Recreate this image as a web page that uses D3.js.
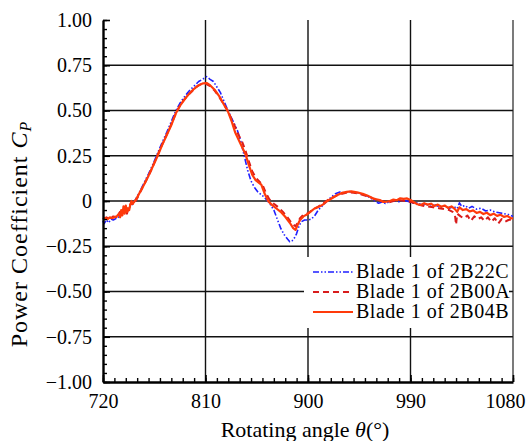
<!DOCTYPE html>
<html>
<head>
<meta charset="utf-8">
<script src="https://cdn.jsdelivr.net/npm/d3@7"></script>
<style>
  html, body { margin: 0; padding: 0; background: #fff; }
  svg { display: block; }
</style>
</head>
<body>
<svg id="chart" width="531" height="441"></svg>
<script>
// Power coefficient of blade 1 over one revolution, three rotor configurations
const seriesNames = ["Blade 1 of 2B22C", "Blade 1 of 2B00A", "Blade 1 of 2B04B"];

const cp2B22C = [[720,-0.11],[721,-0.125],[723,-0.105],[725,-0.12],[727,-0.1],[729,-0.105],[732,-0.095],[735,-0.085],[738,-0.07],[741,-0.05],[744,-0.03],[747,-0.01],[750,0.025],[753,0.06],[756,0.1],[760,0.15],[764,0.205],[768,0.265],[772,0.325],[776,0.38],[780,0.44],[784,0.5],[788,0.545],[792,0.58],[796,0.61],[800,0.635],[804,0.66],[808,0.675],[811,0.687],[814,0.672],[817,0.66],[820,0.63],[823,0.6],[826,0.555],[829,0.51],[832,0.47],[835,0.43],[838,0.39],[841,0.33],[844,0.25],[847,0.17],[850,0.11],[853,0.075],[856,0.05],[860,0.03],[864,0.005],[867,-0.02],[870,-0.05],[873,-0.1],[876,-0.15],[879,-0.185],[882,-0.21],[884,-0.225],[886,-0.22],[888,-0.205],[890,-0.18],[892,-0.14],[894,-0.115],[897,-0.105],[900,-0.105],[903,-0.1],[906,-0.08],[909,-0.05],[912,-0.03],[916,-0.005],[920,0.02],[924,0.04],[928,0.05],[932,0.045],[936,0.052],[940,0.048],[944,0.045],[948,0.035],[952,0.028],[956,0.012],[959,-0.002],[962,-0.012],[965,-0.005],[968,-0.014],[972,-0.002],[976,0.004],[980,-0.004],[984,0.004],[988,-0.002],[992,-0.012],[996,-0.01],[1000,-0.022],[1004,-0.018],[1008,-0.03],[1012,-0.022],[1016,-0.035],[1020,-0.028],[1024,-0.04],[1028,-0.03],[1031,-0.042],[1033,-0.01],[1035,-0.03],[1038,-0.025],[1041,-0.04],[1044,-0.03],[1048,-0.045],[1052,-0.04],[1056,-0.055],[1060,-0.05],[1064,-0.06],[1068,-0.065],[1072,-0.07],[1076,-0.075],[1080,-0.085]];

const cp2B00A = [[720,-0.1],[723,-0.09],[726,-0.1],[729,-0.085],[732,-0.09],[735,-0.06],[737,-0.085],[739,-0.04],[741,-0.07],[743,-0.03],[745,-0.01],[747,-0.02],[750,0.015],[754,0.065],[758,0.115],[762,0.165],[766,0.225],[770,0.285],[774,0.34],[778,0.395],[782,0.455],[786,0.51],[790,0.55],[794,0.58],[798,0.605],[802,0.63],[806,0.645],[810,0.648],[814,0.635],[818,0.61],[822,0.575],[826,0.535],[830,0.495],[833,0.45],[836,0.41],[839,0.365],[842,0.33],[845,0.28],[848,0.22],[851,0.165],[854,0.13],[857,0.11],[860,0.09],[863,0.045],[866,0.01],[870,-0.015],[874,-0.035],[878,-0.06],[882,-0.09],[886,-0.125],[889,-0.14],[891,-0.12],[893,-0.095],[896,-0.075],[900,-0.068],[904,-0.05],[908,-0.035],[912,-0.02],[916,0.0],[920,0.015],[925,0.03],[930,0.04],[935,0.048],[940,0.045],[945,0.04],[950,0.03],[955,0.02],[960,0.005],[965,0.0],[970,-0.01],[975,0.0],[980,0.005],[985,0.0],[990,-0.005],[995,-0.015],[1000,-0.025],[1005,-0.03],[1010,-0.035],[1015,-0.04],[1020,-0.045],[1024,-0.05],[1027,-0.06],[1029,-0.075],[1030,-0.13],[1031,-0.07],[1034,-0.085],[1037,-0.095],[1040,-0.08],[1043,-0.11],[1046,-0.085],[1049,-0.1],[1052,-0.09],[1055,-0.11],[1058,-0.09],[1061,-0.115],[1064,-0.095],[1067,-0.125],[1070,-0.1],[1073,-0.115],[1076,-0.105],[1080,-0.1]];

const cp2B04B = [[720,-0.10],[722,-0.095],[724,-0.10],[726,-0.09],[728,-0.095],[730,-0.09],[732,-0.085],[734,-0.07],[735,-0.09],[736,-0.05],[737,-0.08],[738,-0.03],[739,-0.07],[740,-0.025],[741,-0.06],[742,-0.04],[743,-0.05],[744,-0.02],[745,0.0],[746,-0.015],[748,0.0],[750,0.02],[753,0.055],[756,0.09],[760,0.14],[764,0.195],[768,0.25],[772,0.31],[776,0.365],[780,0.42],[784,0.485],[788,0.53],[792,0.565],[796,0.595],[800,0.62],[804,0.64],[808,0.65],[811,0.652],[814,0.64],[818,0.615],[822,0.58],[826,0.535],[830,0.49],[833,0.44],[836,0.38],[839,0.34],[842,0.3],[845,0.26],[848,0.2],[851,0.145],[854,0.115],[857,0.1],[859,0.09],[862,0.04],[865,0.0],[868,-0.02],[872,-0.04],[876,-0.06],[880,-0.087],[884,-0.12],[887,-0.15],[889,-0.16],[891,-0.13],[893,-0.105],[896,-0.085],[899,-0.075],[902,-0.06],[906,-0.04],[910,-0.03],[913,-0.02],[917,0.0],[921,0.015],[925,0.03],[930,0.045],[934,0.05],[938,0.053],[943,0.048],[948,0.04],[952,0.03],[957,0.015],[960,0.01],[963,0.005],[966,-0.005],[969,-0.004],[972,0.0],[975,0.008],[978,0.004],[981,0.015],[984,0.012],[987,0.014],[990,0.006],[993,-0.006],[996,-0.018],[999,-0.022],[1002,-0.012],[1005,-0.02],[1008,-0.015],[1011,-0.028],[1014,-0.02],[1017,-0.032],[1020,-0.025],[1023,-0.038],[1026,-0.03],[1029,-0.045],[1031,-0.06],[1033,-0.035],[1036,-0.05],[1039,-0.045],[1042,-0.058],[1045,-0.052],[1048,-0.066],[1051,-0.06],[1054,-0.072],[1057,-0.065],[1060,-0.078],[1063,-0.07],[1066,-0.082],[1069,-0.076],[1072,-0.088],[1075,-0.083],[1078,-0.094],[1080,-0.098]];

const xTicks = [720, 810, 900, 990, 1080];
const yTicks = [1, 0.75, 0.5, 0.25, 0, -0.25, -0.5, -0.75, -1];

const colors = ["#1f1fff", "#d81c1c", "#ff3a0a"];
const dashes = ["6,2,1.5,2,1.5,2", "6,4", null];
const widths = [1.6, 2, 2.2];
const allSeries = [cp2B22C, cp2B00A, cp2B04B];

const serif = "Liberation Serif";

const margin = { left: 103, right: 18, top: 20, bottom: 59 };
const W = 531, H = 441;
const svg = d3.select("#chart");

const x = d3.scaleLinear().domain([720, 1080]).range([margin.left, W - margin.right]);
const y = d3.scaleLinear().domain([-1, 1]).range([H - margin.bottom, margin.top]);

const fmtY = v => v === 0 ? "0" : d3.format(".2f")(v);

// grid
const grid = svg.append("g").attr("stroke", "#111").attr("stroke-width", 1.4);
grid.selectAll("line.h").data(yTicks.filter(v => v > -1 && v < 1)).join("line")
  .attr("x1", x.range()[0]).attr("x2", x.range()[1])
  .attr("y1", d => y(d)).attr("y2", d => y(d));
grid.selectAll("line.v").data(xTicks.filter(v => v > 720 && v < 1080)).join("line")
  .attr("y1", y.range()[0]).attr("y2", y.range()[1])
  .attr("x1", d => x(d)).attr("x2", d => x(d));

// right border
svg.append("line")
  .attr("x1", x(1080)).attr("x2", x(1080))
  .attr("y1", y(-1)).attr("y2", y(1))
  .attr("stroke", "#222").attr("stroke-width", 1.2);

// curves
const line = d3.line().x(d => x(d[0])).y(d => y(d[1]));
const curves = svg.append("g").attr("fill", "none");
allSeries.forEach((s, i) => {
  curves.append("path")
    .attr("d", line(s))
    .attr("stroke", colors[i])
    .attr("stroke-width", widths[i])
    .attr("stroke-dasharray", dashes[i])
    .attr("stroke-linejoin", "round");
});

// axes
const fs = 20;
const yMinor = svg.append("g").attr("transform", `translate(${margin.left},0)`)
  .call(d3.axisLeft(y).tickValues(d3.range(-1, 1.0001, 0.05)).tickSizeInner(-4).tickSizeOuter(0).tickFormat(""));
yMinor.select(".domain").remove();
yMinor.selectAll("line").attr("stroke-width", 1.4);

const yAxis = svg.append("g").attr("transform", `translate(${margin.left},0)`)
  .attr("font-family", serif).attr("font-size", fs)
  .call(d3.axisLeft(y).tickValues(yTicks).tickSizeInner(-7).tickSizeOuter(0).tickPadding(11).tickFormat(fmtY));
yAxis.attr("font-family", serif).attr("font-size", fs);
yAxis.select(".domain").attr("stroke-width", 2.4);
yAxis.selectAll("line").attr("stroke-width", 1.6);
yAxis.selectAll("text").attr("fill", "#000");

const xMinor = svg.append("g").attr("transform", `translate(0,${y(-1)})`)
  .call(d3.axisBottom(x).tickValues(d3.range(720, 1081, 10)).tickSizeInner(-4).tickSizeOuter(0).tickFormat(""));
xMinor.select(".domain").remove();
xMinor.selectAll("line").attr("stroke-width", 1.4);

const xAxis = svg.append("g").attr("transform", `translate(0,${y(-1)})`)
  .call(d3.axisBottom(x).tickValues(xTicks).tickSizeInner(-7).tickSizeOuter(0).tickPadding(12).tickFormat(d3.format("d")));
xAxis.attr("font-family", serif).attr("font-size", fs);
xAxis.select(".domain").attr("stroke-width", 2.4);
xAxis.selectAll("line").attr("stroke-width", 1.6);
xAxis.selectAll("text").attr("fill", "#000");
// last label sits flush with the right edge of the figure
xAxis.selectAll(".tick").filter(d => d === 1080).select("text")
  .attr("text-anchor", "end").attr("x", 12);

// axis titles
const yTitle = svg.append("text")
  .attr("transform", "translate(27,234) rotate(-90)")
  .attr("text-anchor", "middle")
  .attr("font-family", serif).attr("font-size", 24).attr("letter-spacing", 1);
yTitle.append("tspan").text("Power Coefficient ");
yTitle.append("tspan").attr("font-style", "italic").text("C");
yTitle.append("tspan").attr("font-style", "italic").attr("font-size", 16).attr("dy", 4).text("P");

const xTitle = svg.append("text")
  .attr("x", 305).attr("y", 437)
  .attr("text-anchor", "middle")
  .attr("font-family", serif).attr("font-size", 22);
xTitle.append("tspan").text("Rotating angle ");
xTitle.append("tspan").attr("font-style", "italic").text("θ");
xTitle.append("tspan").text("(°)");

// legend
const lg = svg.append("g");
lg.append("rect").attr("x", 304).attr("y", 257).attr("width", 205).attr("height", 71).attr("fill", "#fff");
seriesNames.forEach((name, i) => {
  const cy = 272 + i * 20;
  lg.append("line")
    .attr("x1", 313).attr("x2", 353).attr("y1", cy).attr("y2", cy)
    .attr("stroke", colors[i]).attr("stroke-width", widths[i])
    .attr("stroke-dasharray", dashes[i]);
  lg.append("text").attr("x", 356).attr("y", cy + 6)
    .attr("font-family", serif).attr("font-size", 20).attr("letter-spacing", 0.5).text(name);
});
</script>
</body>
</html>
